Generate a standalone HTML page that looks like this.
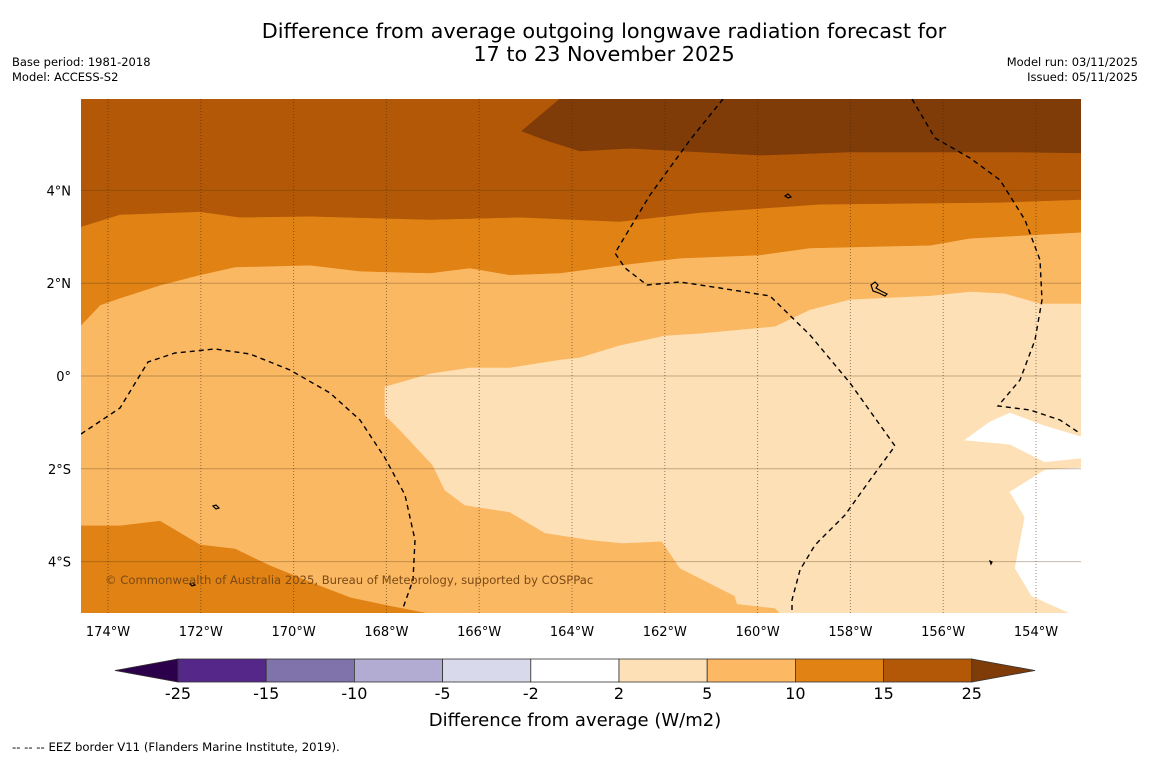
<!DOCTYPE html>
<html><head><meta charset="utf-8"><style>
body{margin:0;background:#fff;width:1150px;height:758px;overflow:hidden;font-family:"DejaVu Sans","Liberation Sans",sans-serif}
svg{display:block}
text{font-family:"DejaVu Sans","Liberation Sans",sans-serif}
</style></head><body>
<svg id="chart" width="1150" height="758" viewBox="0 0 1150 758">
<rect width="1150" height="758" fill="#fff"/>
<text x="604" y="38" font-size="20.8" text-anchor="middle">Difference from average outgoing longwave radiation forecast for</text>
<text x="604" y="61" font-size="20.8" text-anchor="middle">17 to 23 November 2025</text>
<text x="12" y="66" font-size="11.5">Base period: 1981-2018</text>
<text x="12" y="81" font-size="11.5">Model: ACCESS-S2</text>
<text x="1138" y="66" font-size="11.5" text-anchor="end">Model run: 03/11/2025</text>
<text x="1138" y="81" font-size="11.5" text-anchor="end">Issued: 05/11/2025</text>
<defs><clipPath id="mapclip"><rect x="81" y="99" width="1000" height="514"/></clipPath></defs>
<g id="map" clip-path="url(#mapclip)"></g>
<g id="eez" clip-path="url(#mapclip)" fill="none" stroke="#000" stroke-width="1.4" stroke-dasharray="5,4">
<path d="M81,434 L120,408 L148,362 L175,353 L215,349 L250,354 L290,370 L330,393 L360,420 L385,458 L405,495 L415,540 L413,580 L403,608"/>
<path d="M723,99 L690,140 L650,195 L615,253 L625,268 L647,285 L680,282 L720,288 L770,296 L810,335 L850,383 L895,446 L870,480 L845,515 L815,545 L800,570 L792,600 L792,613"/>
<path d="M912,99 L935,138 L970,158 L1000,180 L1025,220 L1040,260 L1042,300 L1035,340 L1020,380 L998,406 L1030,410 L1060,420 L1078,432"/>
</g>
<g fill="none" stroke="#000" stroke-width="1.2">
<path d="M785,196 l3,-2 l3,3 l-3,1z"/>
<path d="M871,285 l4,-3 l3,3 l-2,3 l5,3 l6,3 l-2,2 l-6,-3 l-6,-2z"/>
<path d="M213,506 l3,-1 l3,3 l-3,1z"/>
<path d="M190,584 l3,-1 l2,2 l-3,1z"/>
<path d="M990,561 l2,1 l-1,2z"/>
</g>
<text x="105" y="584" font-size="11.6" fill="#7a4a14">© Commonwealth of Australia 2025, Bureau of Meteorology, supported by COSPPac</text>
<g id="xticks"></g>
<g id="yticks"></g>
<g id="cbar"></g>
<text x="575" y="726" font-size="18" text-anchor="middle">Difference from average (W/m2)</text>
<text x="12" y="751" font-size="11.7">--  --  -- EEZ border V11 (Flanders Marine Institute, 2019).</text>
</svg>
<script>
const NS='http://www.w3.org/2000/svg';
const lonTicks=[-174,-172,-170,-168,-166,-164,-162,-160,-158,-156,-154];
const latTicks=[4,2,0,-2,-4];
const cbarLevels=['-25','-15','-10','-5','-2','2','5','10','15','25'];
const cbarColors=['#542788','#8073ac','#b2abd2','#d8daeb','#ffffff','#fee0b6','#fdb863','#e08214','#b35806'];
const regionBase=[[-174.58,5.97],[-153.03,5.97],[-153.03,-5.11],[-174.58,-5.11]];
const region15to25=[[-174.58,5.97],[-153.03,5.97],[-153.03,3.79],[-154.78,3.73],[-158.66,3.69],[-161.24,3.51],[-162.97,3.32],[-165.12,3.41],[-167.06,3.36],[-169.65,3.43],[-171.16,3.41],[-172.02,3.53],[-173.74,3.47],[-174.58,3.21]];
const regionOver25=[[-164.26,5.97],[-153.03,5.97],[-153.03,4.81],[-154.56,4.83],[-158.01,4.83],[-159.95,4.76],[-162.75,4.91],[-163.83,4.85],[-164.58,5.09],[-165.08,5.28]];
const region10to15N=[[-174.58,3.21],[-173.74,3.47],[-172.02,3.53],[-171.16,3.41],[-169.65,3.43],[-167.06,3.36],[-165.12,3.41],[-162.97,3.32],[-161.24,3.51],[-158.66,3.69],[-154.78,3.73],[-153.03,3.79],[-153.03,3.10],[-155.42,2.97],[-156.28,2.82],[-158.87,2.76],[-159.95,2.61],[-161.67,2.54],[-162.97,2.39],[-164.26,2.22],[-165.34,2.18],[-166.20,2.33],[-167.06,2.22],[-168.57,2.26],[-169.65,2.39],[-171.26,2.35],[-172.02,2.18],[-172.88,1.96],[-173.74,1.68],[-174.17,1.53],[-174.58,1.10]];
const region10to15S=[[-174.58,-3.23],[-173.74,-3.23],[-172.88,-3.13],[-172.02,-3.64],[-171.26,-3.73],[-170.51,-4.09],[-169.43,-4.53],[-168.78,-4.78],[-168.03,-4.94],[-167.17,-5.11],[-174.58,-5.11]];
const region2to5=[[-168.03,-0.24],[-167.06,0.04],[-166.20,0.17],[-165.34,0.17],[-164.26,0.34],[-163.83,0.39],[-162.97,0.65],[-162.00,0.86],[-161.24,0.91],[-159.95,1.03],[-159.62,1.06],[-158.87,1.42],[-158.01,1.64],[-156.28,1.72],[-155.42,1.81],[-154.67,1.77],[-153.91,1.55],[-153.03,1.55],[-153.03,-5.11],[-159.52,-5.11],[-159.62,-5.00],[-160.44,-4.91],[-160.49,-4.74],[-161.67,-4.14],[-162.06,-3.56],[-162.92,-3.60],[-163.61,-3.53],[-164.58,-3.38],[-165.34,-2.93],[-166.31,-2.78],[-166.74,-2.46],[-167.00,-1.92],[-167.71,-1.16],[-168.03,-0.84]];
const regionWhiteA=[[-153.03,-1.31],[-153.81,-1.08],[-154.56,-0.80],[-154.99,-0.99],[-155.53,-1.38],[-154.56,-1.47],[-153.81,-1.85],[-153.03,-1.77]];
const regionWhiteB=[[-153.03,-1.98],[-153.81,-2.03],[-154.56,-2.50],[-154.24,-3.04],[-154.45,-4.14],[-154.09,-4.74],[-153.27,-5.11],[-153.03,-5.11]];

const PX=46.4;
function xScale(lon){return 108+(lon+174)*PX;}
function yScale(lat){return 376-lat*PX;}
function pts(a){return a.map(p=>xScale(p[0]).toFixed(1)+','+yScale(p[1]).toFixed(1)).join(' ');}

const map=document.getElementById('map');
function poly(arr,fill,name){
  const p=document.createElementNS(NS,'polygon');
  p.setAttribute('points',pts(arr));
  p.setAttribute('fill',fill);
  p.setAttribute('stroke',fill);
  p.setAttribute('stroke-width','0.6');
  
  
  map.appendChild(p);
}
poly(regionBase,'#fbb863','contour-5-to-10');
poly(region15to25,'#b35806','contour-15-to-25');
poly(regionOver25,'#7f3b08','contour-above-25');
poly(region10to15N,'#e08214','contour-10-to-15-north');
poly(region10to15S,'#e08214','contour-10-to-15-south');
poly(region2to5,'#fee0b6','contour-2-to-5');
poly(regionWhiteA,'#ffffff','contour-neutral-a');
poly(regionWhiteB,'#ffffff','contour-neutral-b');

latTicks.forEach(v=>{
  const l=document.createElementNS(NS,'line');
  l.setAttribute('x1',81);l.setAttribute('x2',1081);
  l.setAttribute('y1',yScale(v));l.setAttribute('y2',yScale(v));
  l.setAttribute('stroke','rgba(90,60,20,0.35)');l.setAttribute('stroke-width','1');
  
  
  map.appendChild(l);
});
lonTicks.forEach(v=>{
  const l=document.createElementNS(NS,'line');
  l.setAttribute('x1',xScale(v));l.setAttribute('x2',xScale(v));
  l.setAttribute('y1',99);l.setAttribute('y2',613);
  l.setAttribute('stroke','rgba(60,40,20,0.55)');l.setAttribute('stroke-width','1');
  l.setAttribute('stroke-dasharray','1,2');
  
  
  map.appendChild(l);
});

const xt=document.getElementById('xticks');
lonTicks.forEach(v=>{
  const t=document.createElementNS(NS,'text');
  t.setAttribute('x',xScale(v));t.setAttribute('y',636);
  t.setAttribute('font-size','13');t.setAttribute('text-anchor','middle');
  t.textContent=Math.abs(v)+'°W';
  
  
  xt.appendChild(t);
});
const yt=document.getElementById('yticks');
latTicks.forEach(v=>{
  const t=document.createElementNS(NS,'text');
  t.setAttribute('x',71);t.setAttribute('y',yScale(v)+5);
  t.setAttribute('font-size','13');t.setAttribute('text-anchor','end');
  t.textContent=v===0?'0°':(Math.abs(v)+'°'+(v>0?'N':'S'));
  
  
  yt.appendChild(t);
});

const cb=document.getElementById('cbar');
const cx0=178,cw=88.2,cy=659,ch=23;
const tl=document.createElementNS(NS,'polygon');
tl.setAttribute('points',`115,${cy+ch/2} ${cx0},${cy} ${cx0},${cy+ch}`);
tl.setAttribute('fill','#2d004b');tl.setAttribute('stroke','#333');tl.setAttribute('stroke-width','0.8');


cb.appendChild(tl);
cbarColors.forEach((c,i)=>{
  const r=document.createElementNS(NS,'rect');
  r.setAttribute('x',cx0+i*cw);r.setAttribute('y',cy);r.setAttribute('width',cw);r.setAttribute('height',ch);
  r.setAttribute('fill',c);r.setAttribute('stroke','#333');r.setAttribute('stroke-width','0.8');
  
  
  cb.appendChild(r);
});
const xe=cx0+cbarColors.length*cw;
const tr=document.createElementNS(NS,'polygon');
tr.setAttribute('points',`${xe},${cy} 1035,${cy+ch/2} ${xe},${cy+ch}`);
tr.setAttribute('fill','#7f3b08');tr.setAttribute('stroke','#333');tr.setAttribute('stroke-width','0.8');


cb.appendChild(tr);
cbarLevels.forEach((s,i)=>{
  const t=document.createElementNS(NS,'text');
  t.setAttribute('x',cx0+i*cw);t.setAttribute('y',699);
  t.setAttribute('font-size','16');t.setAttribute('text-anchor','middle');
  t.textContent=s;
  
  
  cb.appendChild(t);
});
</script>
</body></html>
